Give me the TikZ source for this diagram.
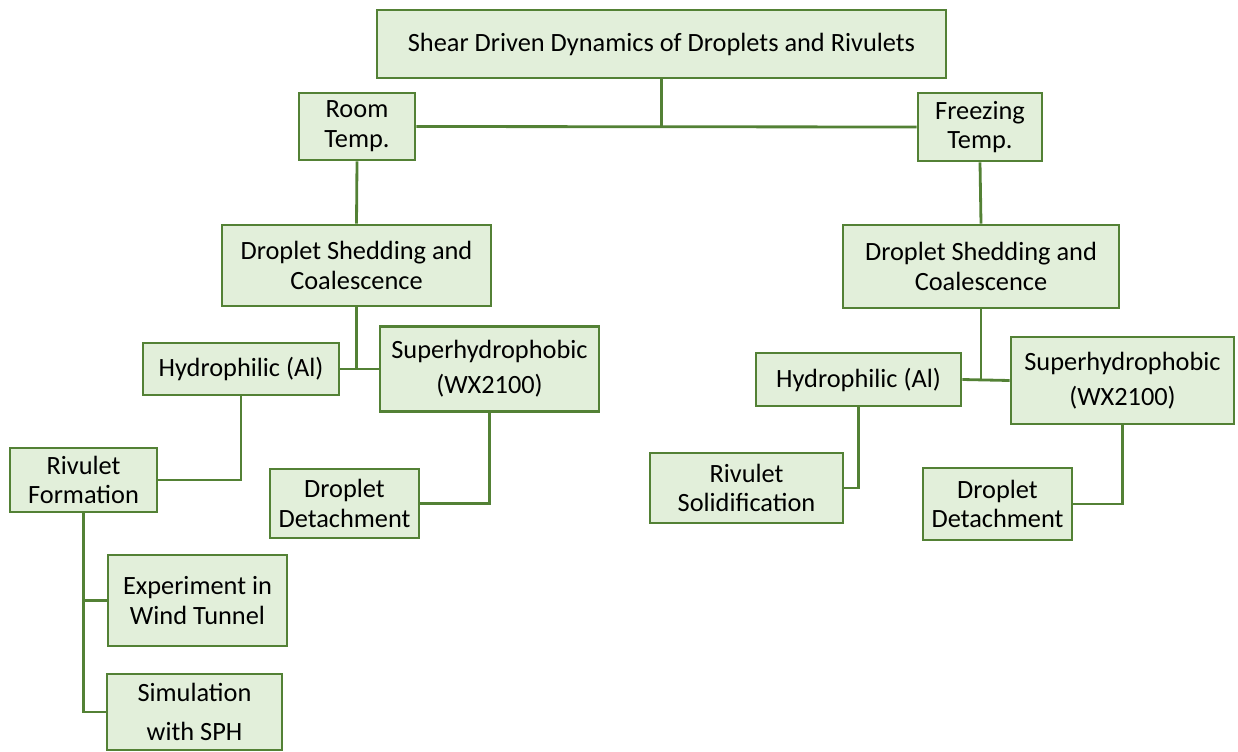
\documentclass[tikz,border=0pt]{standalone}
\usepackage{fontspec}
\setmainfont{Carlito}
\usepackage{tikz}

\definecolor{boxfill}{HTML}{E2EFDA}
\definecolor{boxline}{HTML}{538135}

\begin{document}
\begin{tikzpicture}[x=0.02cm,y=-0.02cm,
		box/.style={draw=boxline,fill=boxfill,line width=1.6pt,inner sep=0pt,align=center,
			font=\fontsize{15}{17}\selectfont},
		sz/.style 2 args={minimum width=#1*0.02cm,minimum height=#2*0.02cm},
		link/.style={draw=boxline,line width=1.6pt}]
				\useasboundingbox (0,0) rectangle (1238,751);
				
				% top
				\node (root) at (661.5,44) [box,sz={569}{68}] {Shear Driven Dynamics of Droplets and Rivulets};
				\node (room) at (357,126.5) [box,sz={116}{67}] {Room\\Temp.};
				\node (freeze) at (980,127) [box,sz={124}{68}] {Freezing\\Temp.};
				
				% room temperature branch
				\node (dscL) at (356.5,265.5) [box,sz={269}{81}] {Droplet Shedding and\\Coalescence};
				\node (hydL) at (241,369) [box,sz={196}{52}] {Hydrophilic (Al)};
				\node (supL) at (489.5,369) [box,sz={219}{85}] {Superhydrophobic\\[3pt](WX2100)};
				\node (rivF) at (83.5,480) [box,sz={147}{64}] {Rivulet\\Formation};
				\node (detL) at (344.5,503.5) [box,sz={149}{69}] {Droplet\\Detachment};
				\node (expL) at (197.5,600.5) [box,sz={179}{91}] {Experiment in\\Wind Tunnel};
				\node (simL) at (194.5,712) [box,sz={175}{76}] {Simulation\\[5pt]with SPH};
				
				% freezing temperature branch
				\node (dscR) at (981,266.5) [box,sz={276}{83}] {Droplet Shedding and\\Coalescence};
				\node (hydR) at (858.5,379.5) [box,sz={205}{53}] {Hydrophilic (Al)};
				\node (supR) at (1122.5,380.5) [box,sz={223}{87}] {Superhydrophobic\\[3pt](WX2100)};
				\node (rivS) at (746.5,488) [box,sz={193}{70}] {Rivulet\\Solidification};
				\node (detR) at (997.5,504) [box,sz={149}{72}] {Droplet\\Detachment};
				
				\coordinate (j0) at (root.south |- room.east);
				\coordinate (j1) at (dscL.south |- hydL.east);
				\coordinate (j2) at (dscR.south |- hydR.east);
				
				\draw[link] (root.south) -- (j0);
				\draw[link] (room.east) -- (freeze.west);
				\draw[link] (room.south) -- (dscL.north);
				\draw[link] (freeze.south) -- (dscR.north);
				
				\draw[link] (dscL.south) -- (j1);
				\draw[link] (hydL.east) -- (supL.west);
				\draw[link] (hydL.south) |- (rivF.east);
				\draw[link] (supL.south) |- (detL.east);
				\draw[link] (rivF.south) |- (expL.west);
				\draw[link] (rivF.south) |- (simL.west);
				
				\draw[link] (dscR.south) -- (j2);
				\draw[link] (hydR.east) -- (supR.west);
				\draw[link] (hydR.south) |- (rivS.east);
				\draw[link] (supR.south) |- (detR.east);
			\end{tikzpicture}
\end{document}
